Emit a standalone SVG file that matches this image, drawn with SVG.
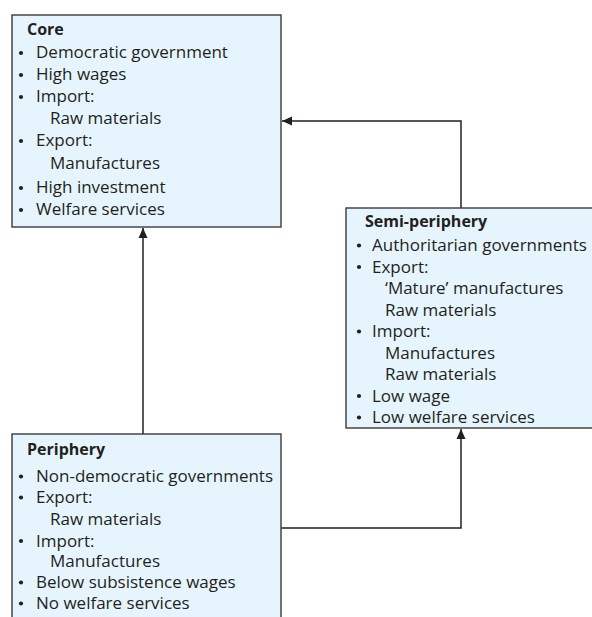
<svg xmlns="http://www.w3.org/2000/svg" width="592" height="617" viewBox="0 0 592 617">
<defs>
<style>
.box{fill:#e6f5fd;stroke:#3a3a3a;stroke-width:1.4}
.t{font-family:"Open Sans","Noto Sans",sans-serif;font-size:17px;fill:#231f20}
.h{font-family:"Open Sans","Noto Sans",sans-serif;font-size:16px;font-weight:bold;fill:#231f20}
.b{fill:#231f20}
.c{fill:none;stroke:#231f20;stroke-width:1.5}
</style>
<marker id="ah" viewBox="0 0 10 10" refX="10" refY="5" markerWidth="10" markerHeight="10" markerUnits="userSpaceOnUse" orient="auto">
<path d="M0,0.5 L10,5 L0,9.5 Z" fill="#231f20"/>
</marker>
</defs>
<rect width="592" height="617" fill="#ffffff"/>
<g id="connectors">
<path class="c" d="M143,434 V228" marker-end="url(#ah)"/>
<path class="c" d="M461,208 V121 H282" marker-end="url(#ah)"/>
<path class="c" d="M281,528 H461 V429" marker-end="url(#ah)"/>
</g>
<g id="core">
<rect class="box" x="12" y="15" width="269" height="212"/>
<text class="h" x="27" y="35">Core</text>
<g class="b"><circle cx="21" cy="53" r="2.1"/><circle cx="21" cy="75" r="2.1"/><circle cx="21" cy="97" r="2.1"/><circle cx="21" cy="141" r="2.1"/><circle cx="21" cy="188" r="2.1"/><circle cx="21" cy="210" r="2.1"/></g>
<text class="t" x="36" y="58">Democratic government</text>
<text class="t" x="36" y="80">High wages</text>
<text class="t" x="36" y="102">Import:</text>
<text class="t" x="50" y="124">Raw materials</text>
<text class="t" x="36" y="146">Export:</text>
<text class="t" x="50" y="169">Manufactures</text>
<text class="t" x="36" y="193">High investment</text>
<text class="t" x="36" y="215">Welfare services</text>
</g>
<g id="semi-periphery">
<rect class="box" x="346" y="208" width="250" height="220"/>
<text class="h" x="365" y="227">Semi-periphery</text>
<g class="b"><circle cx="359" cy="245.5" r="2.1"/><circle cx="359" cy="267" r="2.1"/><circle cx="359" cy="331.5" r="2.1"/><circle cx="359" cy="396" r="2.1"/><circle cx="359" cy="417.5" r="2.1"/></g>
<text class="t" x="372" y="251">Authoritarian governments</text>
<text class="t" x="372" y="272.5">Export:</text>
<text class="t" x="385" y="294">‘Mature’ manufactures</text>
<text class="t" x="385" y="315.5">Raw materials</text>
<text class="t" x="372" y="337">Import:</text>
<text class="t" x="385" y="358.5">Manufactures</text>
<text class="t" x="385" y="380">Raw materials</text>
<text class="t" x="372" y="401.5">Low wage</text>
<text class="t" x="372" y="423">Low welfare services</text>
</g>
<g id="periphery">
<rect class="box" x="12" y="434" width="269" height="200"/>
<text class="h" x="27" y="455">Periphery</text>
<g class="b"><circle cx="21" cy="476.5" r="2.1"/><circle cx="21" cy="497.5" r="2.1"/><circle cx="21" cy="541" r="2.1"/><circle cx="21" cy="582.5" r="2.1"/><circle cx="21" cy="603.5" r="2.1"/></g>
<text class="t" x="36" y="482">Non-democratic governments</text>
<text class="t" x="36" y="503">Export:</text>
<text class="t" x="50" y="525">Raw materials</text>
<text class="t" x="36" y="546.5">Import:</text>
<text class="t" x="50" y="567">Manufactures</text>
<text class="t" x="36" y="588">Below subsistence wages</text>
<text class="t" x="36" y="609">No welfare services</text>
</g>
</svg>
